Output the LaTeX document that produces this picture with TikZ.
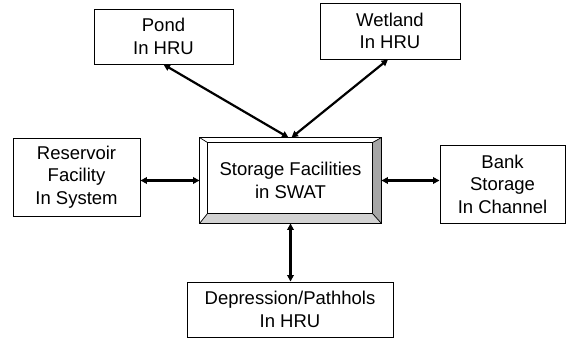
\documentclass[tikz,border=0pt]{standalone}
\usepackage{fontspec}
\setmainfont{Liberation Sans}
\usetikzlibrary{arrows.meta,calc}
\begin{document}
\begin{tikzpicture}[x=1pt,y=-1pt,
  box/.style={draw=black,line width=0.9pt,inner sep=0pt,align=center,
    font=\fontsize{18.5}{22.5}\selectfont},
  link/.style={line width=2.2pt,{Triangle[length=6.5pt,width=6.5pt]}-{Triangle[length=6.5pt,width=6.5pt]}}]
\useasboundingbox (0,0) rectangle (566,338);
\node[box,minimum width=139pt,minimum height=55pt] (pond) at (163.5,36.5) {Pond\\In HRU};
\node[box,minimum width=140pt,minimum height=56pt] (wet) at (390,31) {Wetland\\In HRU};
\node[box,minimum width=127pt,minimum height=78pt] (res) at (76.5,177) {Reservoir\\Facility\\In System};
\node[box,minimum width=125pt,minimum height=78pt] (bank) at (502.5,184) {Bank\\Storage\\In Channel};
\node[box,minimum width=206pt,minimum height=55pt] (dep) at (290,309.5) {Depression/Pathhols\\In HRU};
\node[box,draw=none,minimum width=181pt,minimum height=85pt] (ctr) at (290.5,180.5) {Storage Facilities\\in SWAT};
% bevel
\coordinate (i1) at ($(ctr.north west)+(8,5)$);
\coordinate (i2) at ($(ctr.north east)+(-9,5)$);
\coordinate (i3) at ($(ctr.south east)+(-9,-10)$);
\coordinate (i4) at ($(ctr.south west)+(8,-10)$);
\fill[gray!35] (ctr.south west) -- (ctr.south east) -- (i3) -- (i4) -- cycle;
\fill[gray!70] (ctr.north east) -- (ctr.south east) -- (i3) -- (i2) -- cycle;
\draw[line width=0.7pt] (i1) rectangle (i3);
\draw[line width=0.7pt] (ctr.north west) -- (i1) (ctr.north east) -- (i2)
  (ctr.south east) -- (i3) (ctr.south west) -- (i4);
\draw[line width=1.1pt] (ctr.north west) rectangle (ctr.south east);
% connectors
\draw[link] (pond.south) -- ([xshift=-2pt]ctr.north);
\draw[link] ([xshift=-2pt]wet.south) -- ([xshift=1pt]ctr.north);
\draw[link] (ctr.west -| res.east) -- (ctr.west);
\draw[link] (ctr.east) -- (ctr.east -| bank.west);
\draw[link] (ctr.south) -- (ctr.south |- dep.north);
\end{tikzpicture}
\end{document}
